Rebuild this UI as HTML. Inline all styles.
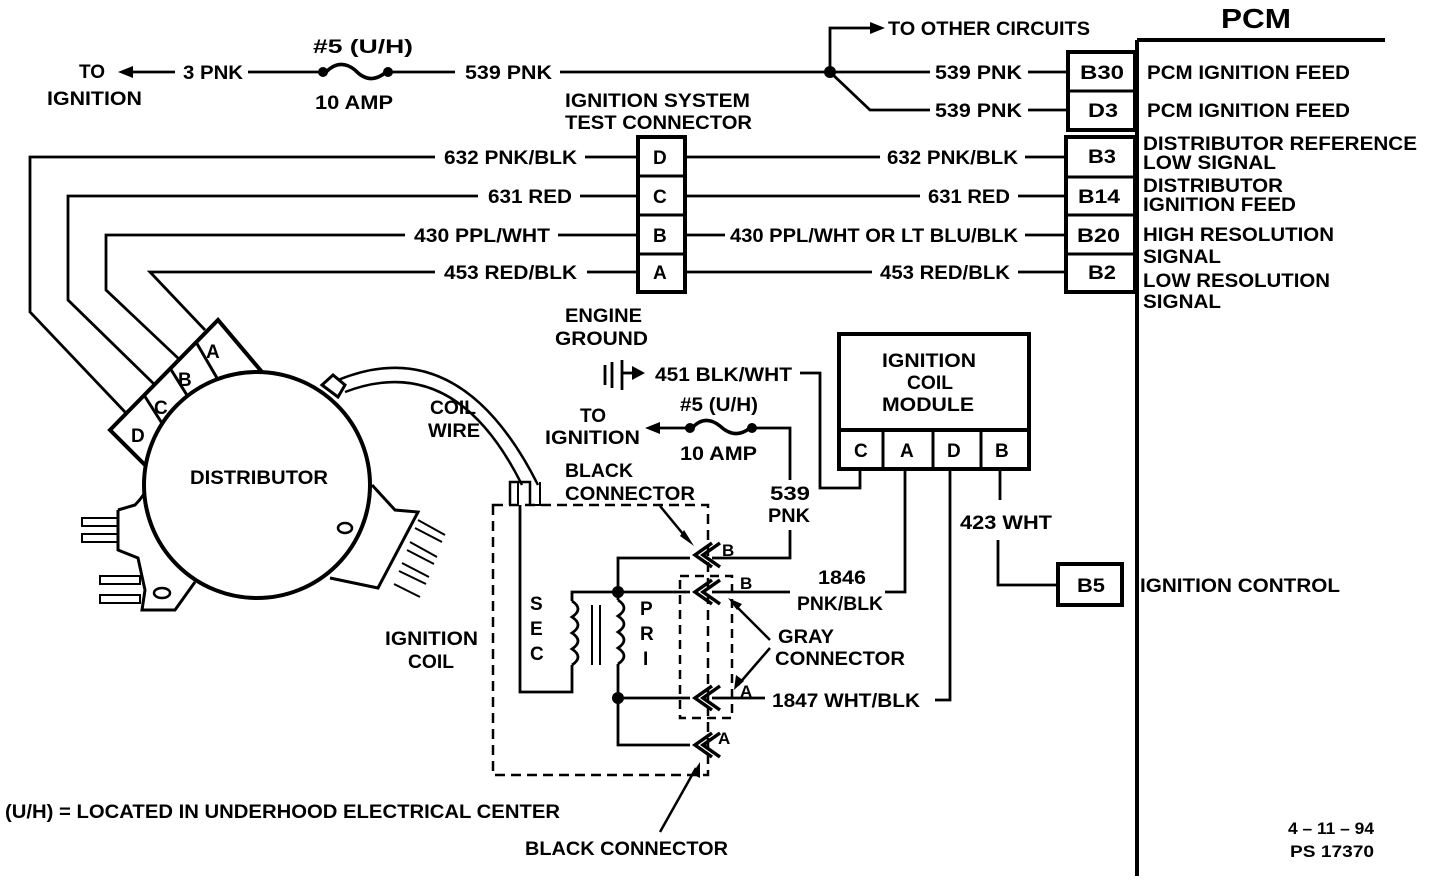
<!DOCTYPE html>
<html><head><meta charset="utf-8"><style>
html,body{margin:0;padding:0;background:#fff;width:1440px;height:880px;overflow:hidden}
svg{display:block}
text{font-family:"Liberation Sans",sans-serif;font-weight:bold;font-size:19px;fill:#000}
</style></head><body>
<svg width="1440" height="880" viewBox="0 0 1440 880" xmlns="http://www.w3.org/2000/svg">
<g stroke="#000" stroke-width="2.8" fill="none" stroke-linejoin="miter">
<line x1="125" y1="72" x2="175" y2="72"/>
<line x1="248" y1="72" x2="323" y2="72"/>
<path d="M326 72 Q340 58 355 70 Q370 86 386 72" stroke-width="3.5"/>
<line x1="388" y1="72" x2="455" y2="72"/>
<line x1="560" y1="72" x2="930" y2="72"/>
<line x1="1028" y1="72" x2="1068" y2="72"/>
<polyline points="830,72 830,28 870,28"/>
<polyline points="830,72 870,110 930,110"/>
<line x1="1028" y1="110" x2="1068" y2="110"/>
<line x1="1137" y1="40" x2="1137" y2="876" stroke-width="4"/>
<line x1="1137" y1="40" x2="1385" y2="40" stroke-width="4"/>
<rect x="1068" y="52" width="67" height="78" stroke-width="4"/>
<line x1="1068" y1="91" x2="1135" y2="91" stroke-width="3"/>
<rect x="1066" y="137" width="69" height="155" stroke-width="4"/>
<line x1="1066" y1="177" x2="1135" y2="177" stroke-width="3"/>
<line x1="1066" y1="215" x2="1135" y2="215" stroke-width="3"/>
<line x1="1066" y1="254" x2="1135" y2="254" stroke-width="3"/>
<rect x="638" y="137" width="47" height="155" stroke-width="4"/>
<line x1="638" y1="176" x2="685" y2="176" stroke-width="3"/>
<line x1="638" y1="215" x2="685" y2="215" stroke-width="3"/>
<line x1="638" y1="254" x2="685" y2="254" stroke-width="3"/>
<polyline points="435,157 30,157 30,312 125,412"/>
<line x1="585" y1="157" x2="638" y2="157"/>
<line x1="685" y1="157" x2="880" y2="157"/>
<line x1="1025" y1="157" x2="1066" y2="157"/>
<polyline points="478,196 68,196 68,300 155,385"/>
<line x1="580" y1="196" x2="638" y2="196"/>
<line x1="685" y1="196" x2="920" y2="196"/>
<line x1="1018" y1="196" x2="1066" y2="196"/>
<polyline points="405,235 106,235 106,290 180,360"/>
<line x1="558" y1="235" x2="638" y2="235"/>
<line x1="685" y1="235" x2="725" y2="235"/>
<line x1="1025" y1="235" x2="1066" y2="235"/>
<polyline points="435,272 150,272 205,330"/>
<line x1="587" y1="272" x2="638" y2="272"/>
<line x1="685" y1="272" x2="872" y2="272"/>
<line x1="1018" y1="272" x2="1066" y2="272"/>
<polygon points="110,430 218,320 262,372 145,465" stroke-width="4" fill="#fff"/>
<line x1="144" y1="395" x2="165" y2="428" stroke-width="3"/>
<line x1="170" y1="368" x2="190" y2="400" stroke-width="3"/>
<line x1="196" y1="342" x2="217" y2="378" stroke-width="3"/>
<path d="M118 510 L135 505 Q145 495 148 485" stroke-width="3"/>
<polyline points="118,510 118,550 138,558 145,590 142,610 175,610 195,582" stroke-width="3"/>
<rect x="82" y="518" width="36" height="8" stroke-width="2"/>
<rect x="82" y="534" width="36" height="8" stroke-width="2"/>
<rect x="100" y="576" width="40" height="8" stroke-width="2"/>
<rect x="100" y="595" width="40" height="8" stroke-width="2"/>
<ellipse cx="162" cy="593" rx="8" ry="5" stroke-width="2.5"/>
<polyline points="372,485 395,510 418,512 378,588 330,578" stroke-width="3"/>
<g stroke-width="2">
<line x1="418" y1="520" x2="445" y2="535"/><line x1="415" y1="528" x2="442" y2="542"/>
<line x1="410" y1="542" x2="437" y2="557"/><line x1="407" y1="550" x2="434" y2="564"/>
<line x1="402" y1="563" x2="429" y2="577"/><line x1="399" y1="571" x2="426" y2="584"/>
<line x1="394" y1="584" x2="420" y2="597"/>
</g>
<circle cx="257" cy="485" r="113" stroke-width="4" fill="#fff"/>
<ellipse cx="345" cy="528" rx="7" ry="5" stroke-width="2.5"/>
<polygon points="322,385 333,375 345,385 338,397" stroke-width="3" fill="#fff"/>
<path d="M338 380 Q460 330 538 485" stroke-width="2.5"/>
<path d="M345 392 Q455 350 522 485" stroke-width="2.5"/>
<polyline points="510,505 510,482 530,482 530,505" stroke-width="2.5"/>
<polyline points="518,482 518,505" stroke-width="2"/>
<polyline points="540,482 540,505 530,505" stroke-width="2"/>
<rect x="493" y="505" width="215" height="270" stroke-dasharray="10,6" stroke-width="2.5"/>
<rect x="680" y="576" width="52" height="142" stroke-dasharray="9,6" stroke-width="2.5"/>
<polyline points="520,505 520,692 572,692 572,665"/>
<path d="M572 665 q12 -8 0 -16 q12 -8 0 -16 q12 -8 0 -16 q12 -8 0 -16"/>
<polyline points="572,601 572,592 618,592"/>
<line x1="592" y1="605" x2="592" y2="665" stroke-width="2"/>
<line x1="600" y1="605" x2="600" y2="665" stroke-width="2"/>
<polyline points="690,558 618,558 618,600"/>
<path d="M618 600 q12 8 0 16 q12 8 0 16 q12 8 0 16 q12 8 0 16"/>
<polyline points="618,664 618,745 690,745"/>
<line x1="618" y1="592" x2="690" y2="592"/>
<line x1="618" y1="698" x2="690" y2="698"/>
<g stroke-width="3.5">
<polyline points="712,543 695,555 712,567"/><polyline points="720,543 703,555 720,567"/>
<polyline points="712,580 695,592 712,604"/><polyline points="720,580 703,592 720,604"/>
<polyline points="712,686 695,698 712,710"/><polyline points="720,686 703,698 720,710"/>
<polyline points="712,733 695,745 712,757"/><polyline points="720,733 703,745 720,757"/>
</g>
<polyline points="712,558 790,558 790,530"/>
<polyline points="790,480 790,428 752,428"/>
<path d="M692 428 Q705 414 720 426 Q735 440 750 428" stroke-width="3.5"/>
<line x1="690" y1="428" x2="655" y2="428"/>
<line x1="712" y1="592" x2="790" y2="592"/>
<polyline points="885,592 905,592 905,469"/>
<line x1="712" y1="698" x2="765" y2="698"/>
<polyline points="935,700 950,700 950,469"/>
<line x1="660" y1="506" x2="688" y2="540" stroke-width="2.5"/>
<line x1="770" y1="640" x2="732" y2="602" stroke-width="2.5"/>
<line x1="770" y1="648" x2="738" y2="685" stroke-width="2.5"/>
<line x1="660" y1="832" x2="696" y2="768" stroke-width="2.5"/>
<line x1="605" y1="365" x2="605" y2="385"/>
<line x1="612" y1="362" x2="612" y2="388"/>
<line x1="622" y1="360" x2="622" y2="390"/>
<line x1="622" y1="373" x2="632" y2="373"/>
<polyline points="800,373 820,373 820,488 860,488 860,469"/>
<rect x="839" y="334" width="190" height="135" stroke-width="4"/>
<line x1="839" y1="430" x2="1029" y2="430" stroke-width="4"/>
<line x1="883" y1="430" x2="883" y2="469" stroke-width="3"/>
<line x1="933" y1="430" x2="933" y2="469" stroke-width="3"/>
<line x1="981" y1="430" x2="981" y2="469" stroke-width="3"/>
<line x1="1000" y1="469" x2="1000" y2="500"/>
<polyline points="998,540 998,585 1058,585"/>
<rect x="1058" y="564" width="64" height="41" stroke-width="4"/>
</g>
<g fill="#000">
<polygon points="118,72 133,66 133,78"/>
<polygon points="885,28 870,22 870,34"/>
<polygon points="645,428 660,422 660,434"/>
<polygon points="645,373 632,366 632,380"/>
<circle cx="323" cy="72" r="5"/><circle cx="388" cy="72" r="5"/>
<circle cx="690" cy="428" r="5"/><circle cx="752" cy="428" r="5"/>
<circle cx="830" cy="72" r="6"/>
<circle cx="618" cy="592" r="6"/><circle cx="618" cy="698" r="6"/>
<polygon points="694,546 680,536 684,530"/>
<polygon points="728,598 742,604 737,610"/>
<polygon points="734,690 736,675 744,681"/>
<polygon points="700,762 700,778 692,774"/>
</g>
<g>
<text x="79" y="78">TO</text>
<text x="47" y="105" textLength="95" lengthAdjust="spacingAndGlyphs">IGNITION</text>
<text x="183" y="79" textLength="60" lengthAdjust="spacingAndGlyphs">3 PNK</text>
<text x="313" y="53" textLength="100" lengthAdjust="spacingAndGlyphs">#5 (U/H)</text>
<text x="315" y="109" textLength="78" lengthAdjust="spacingAndGlyphs">10 AMP</text>
<text x="465" y="79" textLength="87" lengthAdjust="spacingAndGlyphs">539 PNK</text>
<text x="888" y="35" textLength="202" lengthAdjust="spacingAndGlyphs">TO OTHER CIRCUITS</text>
<text x="935" y="79" textLength="87" lengthAdjust="spacingAndGlyphs">539 PNK</text>
<text x="935" y="117" textLength="87" lengthAdjust="spacingAndGlyphs">539 PNK</text>
<text x="1221" y="28" style="font-size:28px" textLength="70" lengthAdjust="spacingAndGlyphs">PCM</text>
<text x="1080" y="79" textLength="44" lengthAdjust="spacingAndGlyphs">B30</text>
<text x="1088" y="117" textLength="30" lengthAdjust="spacingAndGlyphs">D3</text>
<text x="1088" y="163" textLength="28" lengthAdjust="spacingAndGlyphs">B3</text>
<text x="1078" y="203" textLength="42" lengthAdjust="spacingAndGlyphs">B14</text>
<text x="1077" y="242" textLength="43" lengthAdjust="spacingAndGlyphs">B20</text>
<text x="1088" y="279" textLength="28" lengthAdjust="spacingAndGlyphs">B2</text>
<text x="1147" y="79" textLength="203" lengthAdjust="spacingAndGlyphs">PCM IGNITION FEED</text>
<text x="1147" y="117" textLength="203" lengthAdjust="spacingAndGlyphs">PCM IGNITION FEED</text>
<text x="1143" y="150" textLength="274" lengthAdjust="spacingAndGlyphs">DISTRIBUTOR REFERENCE</text>
<text x="1143" y="169" textLength="133" lengthAdjust="spacingAndGlyphs">LOW SIGNAL</text>
<text x="1143" y="192" textLength="140" lengthAdjust="spacingAndGlyphs">DISTRIBUTOR</text>
<text x="1143" y="211" textLength="153" lengthAdjust="spacingAndGlyphs">IGNITION FEED</text>
<text x="1143" y="241" textLength="191" lengthAdjust="spacingAndGlyphs">HIGH RESOLUTION</text>
<text x="1143" y="263" textLength="78" lengthAdjust="spacingAndGlyphs">SIGNAL</text>
<text x="1143" y="287" textLength="187" lengthAdjust="spacingAndGlyphs">LOW RESOLUTION</text>
<text x="1143" y="308" textLength="78" lengthAdjust="spacingAndGlyphs">SIGNAL</text>
<text x="565" y="107" textLength="185" lengthAdjust="spacingAndGlyphs">IGNITION SYSTEM</text>
<text x="565" y="129" textLength="187" lengthAdjust="spacingAndGlyphs">TEST CONNECTOR</text>
<text x="653" y="164">D</text><text x="653" y="203">C</text><text x="653" y="242">B</text><text x="653" y="279">A</text>
<text x="444" y="164" textLength="133" lengthAdjust="spacingAndGlyphs">632 PNK/BLK</text>
<text x="887" y="164" textLength="131" lengthAdjust="spacingAndGlyphs">632 PNK/BLK</text>
<text x="488" y="203" textLength="84" lengthAdjust="spacingAndGlyphs">631 RED</text>
<text x="928" y="203" textLength="82" lengthAdjust="spacingAndGlyphs">631 RED</text>
<text x="414" y="242" textLength="136" lengthAdjust="spacingAndGlyphs">430 PPL/WHT</text>
<text x="730" y="242" textLength="288" lengthAdjust="spacingAndGlyphs">430 PPL/WHT OR LT BLU/BLK</text>
<text x="444" y="279" textLength="133" lengthAdjust="spacingAndGlyphs">453 RED/BLK</text>
<text x="880" y="279" textLength="130" lengthAdjust="spacingAndGlyphs">453 RED/BLK</text>
<text x="131" y="442">D</text><text x="154" y="414">C</text><text x="178" y="386">B</text><text x="206" y="358">A</text>
<text x="190" y="484" textLength="138" lengthAdjust="spacingAndGlyphs">DISTRIBUTOR</text>
<text x="430" y="414" textLength="46" lengthAdjust="spacingAndGlyphs">COIL</text>
<text x="428" y="437" textLength="52" lengthAdjust="spacingAndGlyphs">WIRE</text>
<text x="565" y="322" textLength="77" lengthAdjust="spacingAndGlyphs">ENGINE</text>
<text x="555" y="345" textLength="93" lengthAdjust="spacingAndGlyphs">GROUND</text>
<text x="655" y="381" textLength="137" lengthAdjust="spacingAndGlyphs">451 BLK/WHT</text>
<text x="580" y="422">TO</text>
<text x="545" y="444" textLength="95" lengthAdjust="spacingAndGlyphs">IGNITION</text>
<text x="680" y="411" textLength="78" lengthAdjust="spacingAndGlyphs">#5 (U/H)</text>
<text x="680" y="460" textLength="77" lengthAdjust="spacingAndGlyphs">10 AMP</text>
<text x="565" y="477" textLength="68" lengthAdjust="spacingAndGlyphs">BLACK</text>
<text x="565" y="500" textLength="130" lengthAdjust="spacingAndGlyphs">CONNECTOR</text>
<text x="770" y="500" textLength="40" lengthAdjust="spacingAndGlyphs">539</text>
<text x="768" y="522" textLength="42" lengthAdjust="spacingAndGlyphs">PNK</text>
<text x="722" y="556" style="font-size:17px">B</text>
<text x="740" y="589" style="font-size:17px">B</text>
<text x="740" y="697" style="font-size:17px">A</text>
<text x="718" y="744" style="font-size:17px">A</text>
<text x="818" y="584" textLength="48" lengthAdjust="spacingAndGlyphs">1846</text>
<text x="797" y="610" textLength="86" lengthAdjust="spacingAndGlyphs">PNK/BLK</text>
<text x="778" y="643" textLength="56" lengthAdjust="spacingAndGlyphs">GRAY</text>
<text x="775" y="665" textLength="130" lengthAdjust="spacingAndGlyphs">CONNECTOR</text>
<text x="772" y="707" textLength="148" lengthAdjust="spacingAndGlyphs">1847 WHT/BLK</text>
<text x="385" y="645" textLength="93" lengthAdjust="spacingAndGlyphs">IGNITION</text>
<text x="408" y="668" textLength="46" lengthAdjust="spacingAndGlyphs">COIL</text>
<text x="530" y="610">S</text><text x="530" y="635">E</text><text x="530" y="660">C</text>
<text x="640" y="615">P</text><text x="640" y="640">R</text><text x="643" y="665">I</text>
<text x="882" y="367" textLength="94" lengthAdjust="spacingAndGlyphs">IGNITION</text>
<text x="907" y="389" textLength="46" lengthAdjust="spacingAndGlyphs">COIL</text>
<text x="882" y="411" textLength="92" lengthAdjust="spacingAndGlyphs">MODULE</text>
<text x="854" y="457">C</text><text x="900" y="457">A</text><text x="947" y="457">D</text><text x="995" y="457">B</text>
<text x="960" y="529" textLength="92" lengthAdjust="spacingAndGlyphs">423 WHT</text>
<text x="1077" y="592" textLength="28" lengthAdjust="spacingAndGlyphs">B5</text>
<text x="1140" y="592" textLength="200" lengthAdjust="spacingAndGlyphs">IGNITION CONTROL</text>
<text x="5" y="818" textLength="555" lengthAdjust="spacingAndGlyphs">(U/H) = LOCATED IN UNDERHOOD ELECTRICAL CENTER</text>
<text x="525" y="855" textLength="203" lengthAdjust="spacingAndGlyphs">BLACK CONNECTOR</text>
<text x="1288" y="834" style="font-size:17px" textLength="86" lengthAdjust="spacingAndGlyphs">4 – 11 – 94</text>
<text x="1290" y="857" style="font-size:17px" textLength="84" lengthAdjust="spacingAndGlyphs">PS 17370</text>
</g>
</svg>
</body></html>
